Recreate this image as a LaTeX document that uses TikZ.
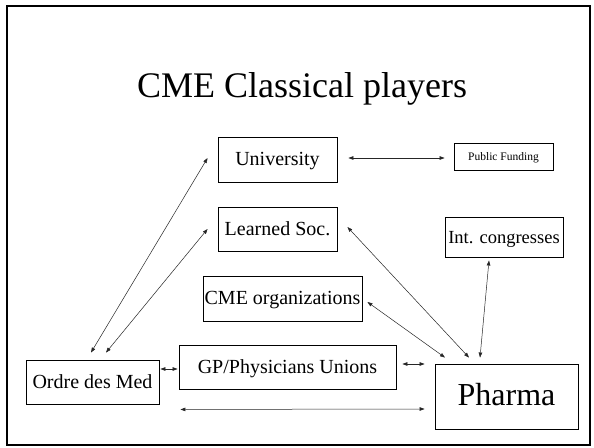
\documentclass[tikz,border=0pt]{standalone}
\usepackage{fontspec}
\setmainfont{Liberation Serif}
\usetikzlibrary{arrows.meta,calc}
\begin{document}
\begin{tikzpicture}[x=1pt,y=-1pt,
  box/.style={draw=black,line width=0.9pt,inner sep=0pt,align=center,font=\fontsize{20}{24}\selectfont,text height=15pt,text depth=3pt},
  bi/.style={line width=0.5pt,draw=black!85,{Triangle[length=5pt,width=3.6pt]}-{Triangle[length=5pt,width=3.6pt]}}]
\useasboundingbox (0,0) rectangle (594,447);
\fill[white] (0,0) rectangle (594,447);
\draw[line width=2pt] (7,6) rectangle (590,445);
\node[anchor=base,font=\fontsize{36}{40}\selectfont] (T) at (302,97) {CME Classical players};
\node[box,minimum width=119,minimum height=45] (U) at (277.5,159.5) {University};
\node[box,minimum width=99,minimum height=27,font=\fontsize{11.5}{13}\selectfont,text height=9pt,text depth=2pt] (PF) at (503.5,157) {Public Funding};
\node[box,minimum width=119,minimum height=44] (LS) at (277.5,229) {Learned Soc.};
\node[box,minimum width=118,minimum height=40,font=\fontsize{18.5}{22}\selectfont] (IC) at (504,237) {Int. congresses};
\node[box,minimum width=159,minimum height=45] (CO) at (282.5,298.5) {CME organizations};
\node[box,minimum width=217,minimum height=44] (GP) at (287.5,367) {GP/Physicians Unions};
\node[box,minimum width=133,minimum height=44] (OM) at (92.5,382) {Ordre des Med};
\node[box,minimum width=143,minimum height=65,font=\fontsize{32}{36}\selectfont,text height=23pt,text depth=6pt] (PH) at (506.5,396.5) {Pharma};
\draw[bi] ($(U.east)+(11,-1.5)$) -- ($(PF.west)+(-9,1)$);
\draw[bi] ($(OM.north)+(-1.5,-7)$) -- ($(U.west)+(-10,-1.5)$);
\draw[bi] ($(OM.north)+(13.5,-7)$) -- ($(LS.west)+(-10,0)$);
\draw[bi] ($(OM.east)+(1,-13)$) -- ($(GP.west)+(-1,2)$);
\draw[bi] ($(GP.east)+(6,-3)$) -- ($(PH.west)+(-10,-32.5)$);
\draw[bi] ($(OM.south east)+(21,5)$) -- ($(PH.west)+(-10,12.5)$);
\draw[bi] ($(LS.east)+(10,-2)$) -- ($(PH.north)+(-37.5,-6)$);
\draw[bi] ($(CO.east)+(5,3.5)$) -- ($(PH.north)+(-61.5,-6)$);
\draw[bi] ($(IC.south)+(-15,3)$) -- ($(PH.north)+(-26.5,-6)$);
\end{tikzpicture}
\end{document}
